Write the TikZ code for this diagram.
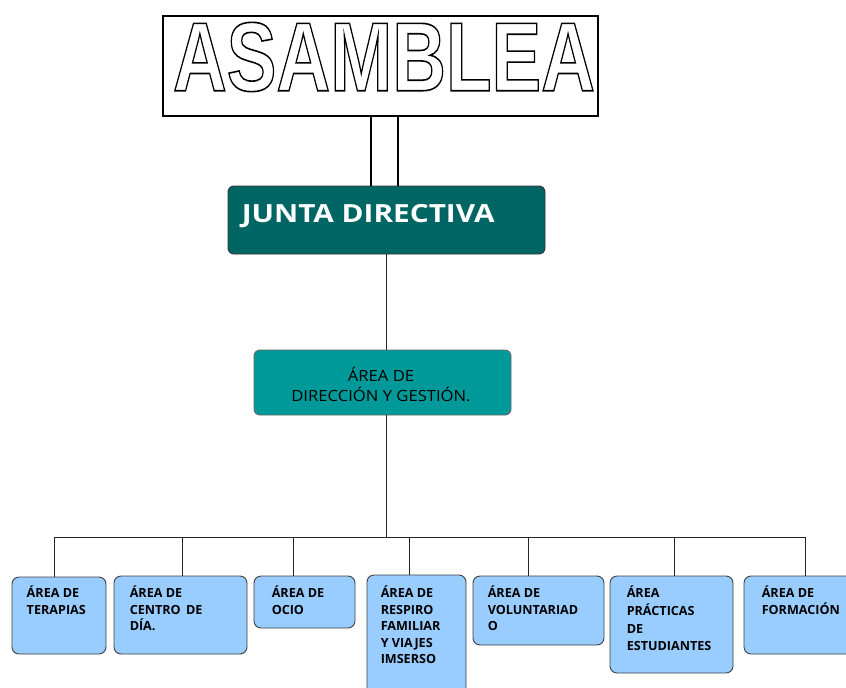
\documentclass[tikz,border=0pt]{standalone}
\usepackage{fontspec}
\setmainfont{Open Sans}
\newfontfamily\asmfont{Liberation Sans}
\usetikzlibrary{positioning,calc}
\definecolor{juntateal}{RGB}{0,102,99}
\definecolor{dirteal}{RGB}{0,153,153}
\definecolor{areablue}{RGB}{153,204,255}
\newcommand{\outlinetext}[1]{\special{pdf:code q 1 Tr 1.6 w 0 G}#1\special{pdf:code Q}}

\begin{document}
\begin{tikzpicture}[x=1pt, y=-1pt,
    area/.style={draw=black!75, fill=areablue, rounded corners=7pt, line width=0.9pt, inner sep=0pt},
    areatext/.style={anchor=north west, align=left, inner sep=0pt, font=\bfseries\fontsize{12.6}{16.5}\selectfont},
    link/.style={draw=black!85, line width=0.8pt}]
  \useasboundingbox (0,0) rectangle (846,688);
  \clip (0,0) rectangle (846,688);

  % Asamblea (top)
  \node[draw, line width=2pt, minimum width=435pt, minimum height=100pt, inner sep=0pt] (asm) at (380.5,66) {};
  \node[inner sep=0pt, font=\asmfont\bfseries\fontsize{98}{98}\selectfont] (asmtxt) at (384,57)
    {\scalebox{0.76}[1]{\outlinetext{ASAMBLEA}}};

  % Junta directiva
  \node[draw=black!80, fill=juntateal, rounded corners=6pt, line width=0.9pt, minimum width=317pt, minimum height=68pt, inner sep=0pt] (jd) at (386.5,220) {};
  \node[anchor=base west, inner sep=0pt, text=white, font=\bfseries\fontsize{25}{30}\selectfont] (jdtxt) at ([shift={(14,37)}]jd.north west) {\scalebox{1.19}[1]{JUNTA DIRECTIVA}};
  \draw[line width=1.6pt] ([xshift=-9.5pt]asm.south) -- ([xshift=-9.5pt]asm.south |- jd.north);
  \draw[line width=1.6pt] ([xshift=17.5pt]asm.south) -- ([xshift=17.5pt]asm.south |- jd.north);

  % Direccion y gestion
  \node[draw=black!60, fill=dirteal, rounded corners=6pt, line width=0.9pt, minimum width=257pt, minimum height=65pt, inner sep=0pt] (dir) at (382.5,382.5) {};
  \node[align=center, inner sep=0pt, font=\fontsize{15.4}{20}\selectfont] (dirtxt) at (381,384) {\scalebox{1.08}[1]{ÁREA DE}\\\scalebox{1.08}[1]{DIRECCIÓN Y GESTIÓN.}};
  \draw[link] (jd.south) -- (jd.south |- dir.north);

  % Areas (bottom)
  \node[area, minimum width=94pt, minimum height=77pt] (b1) at (59,615.5) {};
  \node[area, minimum width=133pt, minimum height=78pt] (b2) at (180.5,615) {};
  \node[area, minimum width=101pt, minimum height=52pt] (b3) at (304.5,602) {};
  \node[area, minimum width=99pt, minimum height=125pt] (b4) at (416.5,637.5) {};
  \node[area, minimum width=131pt, minimum height=69pt] (b5) at (538.5,610.5) {};
  \node[area, minimum width=123pt, minimum height=97pt] (b6) at (671.5,624.5) {};
  \node[area, minimum width=126pt, minimum height=78pt] (b7) at (807,615) {};

  \node[areatext] (t1) at ([shift={(15,9.5)}]b1.north west) {ÁREA DE\\TERAPIAS};
  \node[areatext] (t2) at ([shift={(16,10.5)}]b2.north west) {ÁREA DE\\CENTRO\, DE\\DÍA.};
  \node[areatext] (t3) at ([shift={(18,10.5)}]b3.north west) {ÁREA DE\\OCIO};
  \node[areatext] (t4) at ([shift={(14,11.5)}]b4.north west) {ÁREA DE\\RESPIRO\\FAMILIAR\\Y VIAJES\\IMSERSO};
  \node[areatext] (t5) at ([shift={(15,10.5)}]b5.north west) {ÁREA DE\\VOLUNTARIAD\\O};
  \node[areatext, font=\bfseries\fontsize{12.6}{17.6}\selectfont] (t6) at ([shift={(17,10.5)}]b6.north west) {ÁREA\\PRÁCTICAS\\DE\\ESTUDIANTES};
  \node[areatext] (t7) at ([shift={(18,10.5)}]b7.north west) {ÁREA DE\\FORMACIÓN};

  % Connectors
  \coordinate (c1) at (54,537);
  \coordinate (c2) at (182,537);
  \coordinate (c3) at (293,537);
  \coordinate (c4) at (409,537);
  \coordinate (c5) at (528,537);
  \coordinate (c6) at (674,537);
  \coordinate (c7) at (805,537);
  \draw[link] (jd.south |- dir.south) -- (jd.south |- c1);
  \draw[link] (c1) -- (c7);
  \foreach \i in {1,...,7}
    \draw[link] (c\i) -- (c\i |- b\i.north);
\end{tikzpicture}
\end{document}
